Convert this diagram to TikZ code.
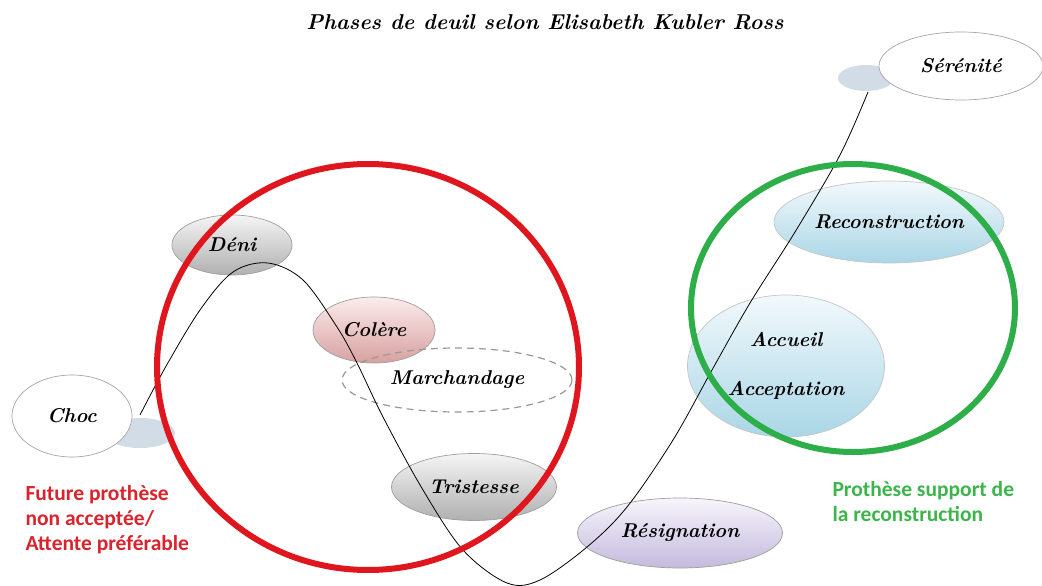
\documentclass[tikz,border=0pt]{standalone}
\usepackage{fontspec}
\newfontfamily\notefont{Carlito}
\usetikzlibrary{shapes.geometric}
\definecolor{redc}{HTML}{E0161E}
\definecolor{greenc}{HTML}{2EAE48}
\definecolor{redtxt}{HTML}{D9232D}
\definecolor{greentxt}{HTML}{3DB54A}
\definecolor{shadowc}{HTML}{D2DCE7}
\tikzset{
  phase/.style={ellipse, draw=gray!75, line width=0.7pt, inner sep=0pt,
    font=\fontsize{20}{23}\selectfont\bfseries\itshape},
  greyph/.style={phase, top color=gray!8, bottom color=gray!62},
  pinkph/.style={phase, top color={rgb,255:red,252;green,236;blue,236}, bottom color={rgb,255:red,216;green,160;blue,160}},
  lilacph/.style={phase, top color={rgb,255:red,247;green,245;blue,252}, bottom color={rgb,255:red,196;green,186;blue,220}},
  blueph/.style={phase, draw=gray!45, top color={rgb,255:red,242;green,249;blue,252}, bottom color={rgb,255:red,170;green,214;blue,230}},
  whiteph/.style={phase, fill=white, draw=gray!70},
  dashph/.style={phase, draw=gray!80, dashed, dash pattern=on 7pt off 5pt, line width=1.2pt},
  shadowph/.style={ellipse, fill=shadowc, draw=none, inner sep=0pt},
  bigring/.style={line width=6pt},
  note/.style={font=\notefont\fontsize{21.5}{25}\selectfont\bfseries, align=left, anchor=west}
}
\begin{document}
\begin{tikzpicture}[x=1pt,y=-1pt]
\useasboundingbox (0,0) rectangle (1042,586);
\fill[white] (0,0) rectangle (1042,586);

% title
\node[font=\fontsize{21.5}{24}\selectfont\bfseries\itshape] (title) at (545,22) {Phases de deuil selon Elisabeth Kubler Ross};

% shadows
\node[shadowph, minimum width=70pt, minimum height=30pt] (chocsh) at (140,433) {};
\node[shadowph, minimum width=56pt, minimum height=26pt] (sersh) at (866,78) {};

% phases
\node[whiteph, minimum width=120pt, minimum height=82pt] (choc) at (72,416) {Choc};
\node[whiteph, minimum width=164pt, minimum height=68pt] (ser) at (961,66) {Sérénité};
\node[greyph, minimum width=120pt, minimum height=60pt] (deni) at (232,245) {Déni};
\node[pinkph, minimum width=122pt, minimum height=66pt] (colere) at (374,330) {Colère};
\node[dashph, minimum width=230pt, minimum height=64pt] (march) at (457,380) {Marchandage};
\node[greyph, minimum width=165pt, minimum height=67pt] (trist) at (474,487) {Tristesse};
\node[lilacph, minimum width=205pt, minimum height=70pt] (resig) at (680,533) {Résignation};
\node[blueph, minimum width=230pt, minimum height=82pt] (recon) at (889,222) {Reconstruction};
\node[blueph, minimum width=197pt, minimum height=142pt, align=center] (accueil) at (786,366) {Accueil\\[26pt]Acceptation};

% curve
\coordinate (c1) at (140,415);
\coordinate (c2) at (868,92);
\draw[line width=0.8pt] plot[smooth, tension=0.55] coordinates {(c1) (165,368) (200,310) (233,272) (268,263) (303,280) (337,327) (357,363) (383,417) (423,490) (463,550) (507,583) (540,580) (587,547) (627,507) (673,440) (712,370) (750,303) (795,232) (840,155) (c2)};

% rings
\draw[bigring, redc] (368,367) ellipse [x radius=211, y radius=203];
\draw[bigring, greenc] (853,308) ellipse [x radius=162, y radius=144];

% notes
\node[note, text=redtxt] (rednote) at (22,520) {Future prothèse\\non acceptée/\\Attente préférable};
\node[note, text=greentxt] (greennote) at (829,502) {Prothèse support de\\la reconstruction};
\end{tikzpicture}
\end{document}
